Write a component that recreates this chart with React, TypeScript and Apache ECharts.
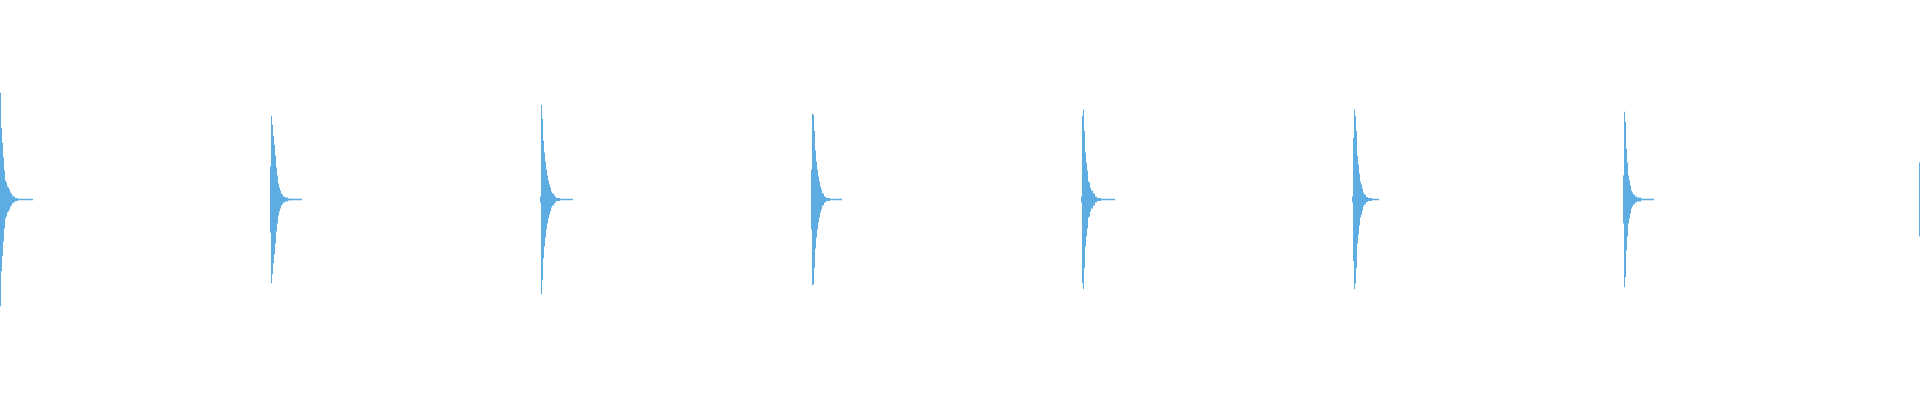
import React, { useEffect, useRef } from 'react';
import * as echarts from 'echarts';

// where each burst begins (sample index, one sample per column)
const burstStarts = [0, 270, 540, 811, 1081, 1352, 1623, 1919];

// envelope of each burst
const burst1 = [107, 72, 57, 42, 29, 19, 17, 13, 12, 10, 7, 6, 4, 3, 3, 1.5, 1.5, 1.5];
const burst2 = [33, 84, 75, 64, 55, 44, 32, 24, 16, 12, 9, 6, 5, 3, 3, 2, 2, 2, 1, 1, 1];
const burst3 = [3, 95, 81, 59, 47, 38, 30, 24, 19, 15, 12, 8, 6, 6, 4, 3, 1.5, 1.5, 1.5, 1.5];
const burst4 = [30, 86, 85, 69, 49, 38, 30, 23, 18, 13, 10, 6, 6, 3, 3, 1.5, 1.5, 1.5, 1.5];
const burst5 = [3, 84, 90, 69, 47, 37, 29, 18, 17, 12, 9, 9, 6, 6, 3, 3, 1.5, 1.5, 1.5, 1.5];
const burst6 = [3, 62, 90, 84, 69, 44, 35, 26, 18, 15, 11, 7, 5, 5, 2.5, 2.5, 1.5, 1.5, 1.5, 1.5];
const burst7 = [24, 88, 78, 51, 37, 24, 19, 14, 9, 7, 5, 5, 3, 3, 2, 2, 2, 2, 1];
const burst8 = [37];
const bursts = [burst1, burst2, burst3, burst4, burst5, burst6, burst7, burst8];

// flat zero line after each burst (columns)
const tailLengths = [15, 11, 13, 12, 14, 7, 12, 0];
const tailAmp = 0.75;

const color = '#5dade2';

const App: React.FC = () => {
  const chartRef = useRef<HTMLDivElement>(null);

  useEffect(() => {
    const chart = echarts.init(chartRef.current as HTMLDivElement, null, { renderer: 'svg' });

    const data: number[][] = [];
    bursts.forEach((amps, i) => {
      const start = burstStarts[i];
      amps.forEach((a, j) => data.push([start + j, a]));
      for (let k = 0; k < tailLengths[i]; k++) {
        data.push([start + amps.length + k, tailAmp]);
      }
    });

    chart.setOption({
      animation: false,
      grid: { left: 0, right: 0, top: 0, height: 399 },
      xAxis: { type: 'value', min: 0, max: 1920, show: false },
      yAxis: { type: 'value', min: -200, max: 200, show: false },
      series: [
        {
          type: 'custom',
          data,
          renderItem: (params: any, api: any) => {
            const x = api.value(0);
            const a = api.value(1);
            const p1 = api.coord([x, a]);
            const p2 = api.coord([x + 1, -a]);
            return {
              type: 'rect',
              shape: { x: p1[0], y: p1[1], width: p2[0] - p1[0], height: Math.max(1, p2[1] - p1[1]) },
              style: { fill: color },
            };
          },
        },
      ],
    });

    return () => {
      chart.dispose();
    };
  }, []);

  return (
    <div
      ref={chartRef}
      style={{ position: 'absolute', left: 0, top: 0, width: '1920px', height: '400px' }}
    ></div>
  );
};

export default App;
